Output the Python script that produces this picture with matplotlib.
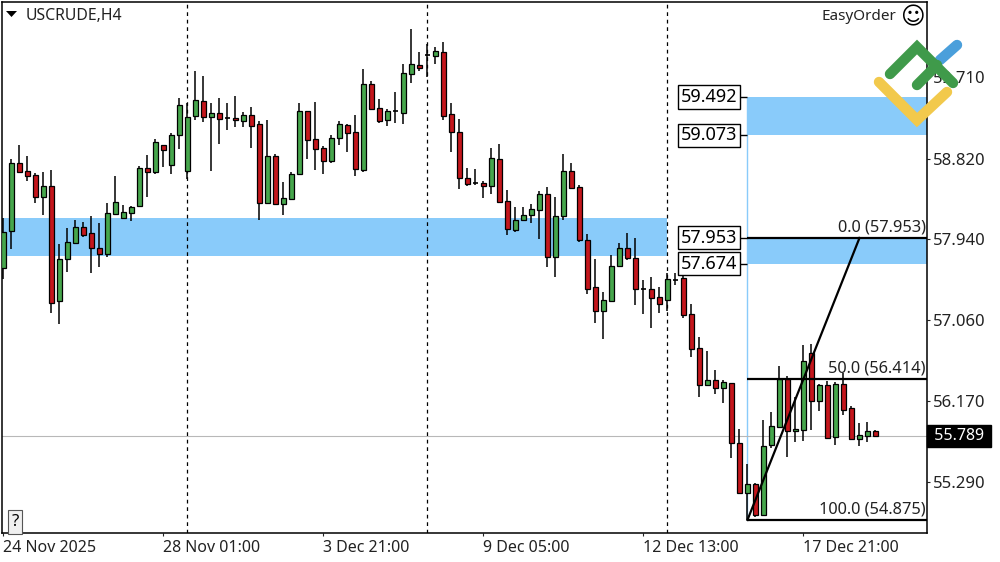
import matplotlib
matplotlib.use("Agg")
import matplotlib.pyplot as plt
from matplotlib.lines import Line2D
from matplotlib.patches import Rectangle, Polygon
from matplotlib.transforms import Affine2D

plt.rcParams['font.family'] = ['Noto Sans', 'DejaVu Sans']

high = [58.171,58.815,58.968,58.848,58.662,58.673,58.695,57.887,58.062,58.149,
        58.127,58.193,58.117,58.335,58.630,58.313,58.302,58.739,58.859,59.034,
        58.968,59.099,59.481,59.427,59.776,59.721,59.427,59.481,59.427,59.503,
        59.328,59.383,59.230,59.241,58.870,58.564,58.673,59.427,59.339,59.437,
        58.957,59.077,59.230,59.197,59.296,59.798,59.667,59.470,59.361,59.547,
        59.852,60.234,59.983,60.071,60.038,60.092,59.427,59.252,58.717,58.706,
        58.575,58.935,58.979,58.477,58.291,58.291,58.324,58.466,58.510,58.400,
        58.870,58.772,58.531,57.996,57.724,57.363,57.767,57.898,58.007,57.953,
        57.494,57.527,57.418,57.571,57.571,57.571,57.232,56.872,56.719,56.512,
        56.403,56.370,55.868,55.486,55.278,55.966,56.053,56.555,56.446,56.217,
        56.785,56.796,56.359,56.392,56.381,56.479,56.119,55.933,55.944,55.857]
low = [57.505,57.833,58.673,58.575,58.335,58.204,57.134,57.014,57.582,57.887,
       57.964,57.571,57.636,57.745,58.215,58.171,58.138,58.302,58.400,58.651,
       58.728,58.651,58.924,58.597,59.241,59.219,58.684,58.979,59.132,59.165,
       59.165,58.935,58.149,58.324,58.324,58.204,58.368,58.651,58.815,58.695,
       58.651,58.772,58.968,58.892,58.630,58.673,59.361,59.208,59.175,59.208,
       59.197,59.645,59.776,59.710,59.852,59.241,58.892,58.488,58.520,58.531,
       58.389,58.433,58.346,57.986,58.018,58.149,58.117,57.942,57.636,57.527,
       58.149,58.488,57.909,57.341,57.025,56.850,57.254,57.647,57.713,57.221,
       57.123,56.970,57.134,57.156,57.440,57.079,56.654,56.217,56.348,56.250,
       56.151,55.551,55.158,54.874,54.907,54.929,55.660,55.889,55.562,55.726,
       55.737,55.857,56.064,55.758,55.693,56.020,55.758,55.682,55.726,55.780]
open_ = [57.625,58.029,58.772,58.684,58.641,58.400,58.520,57.265,57.724,57.898,
         58.073,58.007,57.844,57.778,58.215,58.171,58.226,58.302,58.717,58.673,
         58.968,58.750,59.077,58.684,59.285,59.448,59.274,59.317,59.263,59.263,
         59.230,59.296,59.197,58.335,58.848,58.324,58.379,58.651,59.339,59.034,
         58.935,58.793,59.044,59.186,59.110,58.695,59.634,59.372,59.241,59.339,
         59.317,59.743,59.841,59.951,59.940,59.983,59.306,59.110,58.608,58.553,
         58.553,58.520,58.815,58.357,58.040,58.149,58.204,58.258,58.433,57.745,
         58.193,58.684,58.510,57.931,57.418,57.156,57.265,57.647,57.844,57.734,
         57.396,57.396,57.309,57.276,57.494,57.516,57.123,56.752,56.348,56.403,
         56.315,56.370,55.715,55.169,55.267,54.929,55.693,55.889,56.413,55.846,
         55.857,56.697,56.173,56.348,55.780,56.359,56.097,55.758,55.791,55.846]
close = [58.018,58.772,58.673,58.630,58.400,58.520,57.243,57.724,57.909,58.073,
         57.986,57.844,57.778,58.226,58.346,58.237,58.291,58.717,58.673,59.001,
         58.913,59.077,59.405,59.274,59.459,59.274,59.317,59.252,59.252,59.241,
         59.296,59.175,58.335,58.848,58.324,58.389,58.651,59.339,59.023,58.924,
         58.793,59.044,59.197,59.099,58.706,59.634,59.361,59.230,59.339,59.339,
         59.754,59.852,59.809,59.951,59.994,59.285,59.110,58.608,58.542,58.542,
         58.520,58.826,58.346,58.051,58.149,58.204,58.269,58.433,57.745,58.193,
         58.684,58.499,57.931,57.396,57.156,57.276,57.647,57.844,57.734,57.396,
         57.396,57.298,57.232,57.505,57.494,57.112,56.741,56.348,56.403,56.315,
         56.381,55.715,55.169,55.267,54.929,55.682,55.900,56.413,55.846,55.868,
         56.610,56.173,56.348,55.769,56.359,56.075,55.758,55.802,55.846,55.789]

y_ticks = [59.710, 58.820, 57.940, 57.060, 56.170, 55.290]
x_tick_bars = [0, 20, 40, 60, 80, 100]
x_tick_labels = ['24 Nov 2025', '28 Nov 01:00', '3 Dec 21:00', '9 Dec 05:00', '12 Dec 13:00', '17 Dec 21:00']
day_separators = [23, 53, 83]
zones = [(-1, 83, 57.756, 58.171), (93, 116, 59.073, 59.492), (93, 116, 57.674, 57.953)]
box_prices = [59.492, 59.073, 57.953, 57.674]
fib_levels = [(57.953, '0.0 (57.953)'), (56.414, '50.0 (56.414)'), (54.875, '100.0 (54.875)')]
last_price = 55.789

GREEN, RED, BLUE = '#46a64c', '#c4161c', '#89cbfa'

fig = plt.figure(figsize=(10, 5.62), dpi=100, facecolor='white')
ax = fig.add_axes([2/1000, 1-533/562, 925/1000, 531/562])
ax.set_xlim(-0.1875, 115.44)
ax.set_ylim(54.732, 60.529)
px = Affine2D().scale(1, -1).translate(0, 562)

for a, b, lo, hi in zones:
    ax.add_patch(Rectangle((a, lo), b-a, hi-lo, fc=BLUE, ec='none', zorder=1))
ax.vlines(93, 54.875, 59.492, color='#89cbfa', lw=1, zorder=1.5)
ax.axhline(last_price, color='#b8b8b8', lw=0.8, zorder=1.6)
for d in day_separators:
    ax.axvline(d, color='black', lw=0.9, ls=(0, (3, 3)), zorder=1.7)

for i, (h, l, o, c) in enumerate(zip(high, low, open_, close)):
    ax.vlines(i, l, h, color='black', lw=1.1, zorder=2)
    if abs(o-c) < 0.015:
        ax.hlines(o, i-0.37, i+0.37, color='black', lw=1.2, zorder=3)
    else:
        ax.bar(i, abs(c-o), bottom=min(o, c), width=0.56, color=GREEN if c > o else RED,
               edgecolor='black', linewidth=0.9, zorder=3)

for p, label in fib_levels:
    ax.hlines(p, 93, 116, color='black', lw=1.6, zorder=4)
    ax.text(0.9985, p+0.025, label, transform=ax.get_yaxis_transform(), ha='right', va='bottom',
            fontsize=11.8, color='#222222', zorder=6)
ax.plot([93, 107], [54.875, 57.953], color='black', lw=1.6, zorder=5)

for p in box_prices:
    ax.hlines(p, 91.7, 93, color='black', lw=1, zorder=5)
    ax.text(91.7, p, f'{p:.3f}', ha='right', va='center', fontsize=13, color='black', zorder=7,
            bbox=dict(boxstyle='square,pad=0.14', fc='white', ec='black', lw=1))

ax.yaxis.tick_right()
ax.set_yticks(y_ticks, [f'{v:.3f}' for v in y_ticks])
ax.set_xticks(x_tick_bars, x_tick_labels)
ax.tick_params(axis='y', length=2, width=0.8, pad=2, labelsize=12, colors='#222222')
ax.tick_params(axis='x', length=2, width=0.8, pad=3, labelsize=11.5, colors='#222222')
for t in ax.get_xticklabels():
    t.set_ha('left')
for s in ax.spines.values():
    s.set_linewidth(1.1)
    s.set_color('black')

# Header, status texts
fig.text(26, 16, 'USCRUDE,H4', transform=px, fontsize=11.4, color='#222222', ha='left', va='center')
fig.add_artist(Polygon([(6, 11), (17, 11), (11.5, 17)], closed=True, fc='black', ec='none', transform=px))
fig.text(896, 16, 'EasyOrder', transform=px, fontsize=11, color='#222222', ha='right', va='center')
fig.text(912, 17, '\u263A', transform=px, fontsize=17, color='black', ha='center', va='center',
         family='DejaVu Sans')
fig.text(15, 522, '?', transform=px, fontsize=12, color='black', ha='center', va='center',
         bbox=dict(boxstyle='square,pad=0.22', fc='#f0f0f0', ec='#555555', lw=0.8))

# Last-price tag on the scale
ax.text(1.0032, last_price, f' {last_price:.3f} ', transform=ax.get_yaxis_transform(), ha='left', va='center',
        fontsize=11.5, color='white', clip_on=False, zorder=8,
        bbox=dict(boxstyle='square,pad=0.2', fc='black', ec='black'))

# Logo watermark
logo = [('#4a9fdb', [(940, 60), (957, 45)]),
        ('#f2c94c', [(879, 82), (917, 120), (947, 92)]),
        ('#3f9a4a', [(890, 74), (917, 47), (953, 83)]),
        ('#3f9a4a', [(917, 85), (937, 65)])]
for col, pts in logo:
    xs, ys = zip(*pts)
    fig.add_artist(Line2D(xs, ys, color=col, lw=7.5, solid_capstyle='round', solid_joinstyle='miter',
                          transform=px, zorder=20))

fig.savefig('out.png', dpi=100, facecolor='white')
